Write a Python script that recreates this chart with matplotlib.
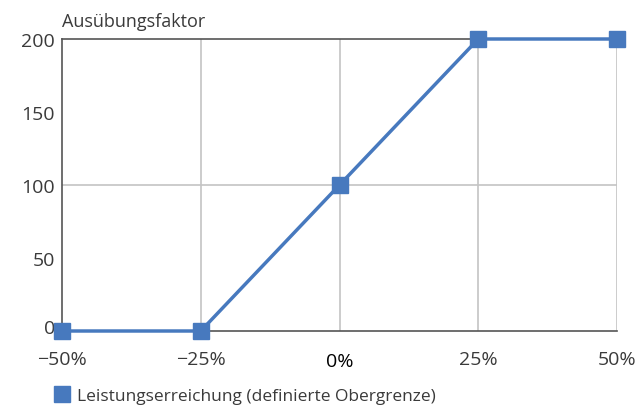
import matplotlib
matplotlib.use("Agg")
import matplotlib.pyplot as plt
from matplotlib.lines import Line2D
import matplotlib.transforms as mtransforms

x_vals = [-50, -25, 0, 25, 50]
y_vals = [0, 0, 100, 200, 200]
x_ticklabels = ["\u221250%", "\u221225%", "0%", "25%", "50%"]
y_ticks = [0, 50, 100, 150, 200]
series_name = "Leistungserreichung (definierte Obergrenze)"
y_title = "Ausübungsfaktor"

plt.rcParams['font.family'] = ['Open Sans', 'DejaVu Sans']
text_color = "#3a3a3a"
blue = "#4779BE"

fig = plt.figure(figsize=(6.39, 4.06), dpi=100)
ax = fig.add_axes([62/639, 1-332/406, (617-62)/639, (332-40)/406])

ax.plot(x_vals, y_vals, color=blue, lw=2.5, marker='s', ms=11.5,
        markerfacecolor=blue, markeredgecolor=blue, zorder=5, clip_on=False)

ax.set_xlim(-50, 50)
ax.set_ylim(0, 200)
ax.set_xticks(x_vals)
ax.set_xticklabels(x_ticklabels)
ax.set_yticks(y_ticks)

# gridlines
for xv in [-25, 0, 25, 50]:
    ax.axvline(xv, color="#c4c4c4", lw=1.2, zorder=1)
ax.axhline(100, color="#c4c4c4", lw=1.2, zorder=1)

for side in ['left', 'top', 'bottom']:
    ax.spines[side].set_color("#555555")
    ax.spines[side].set_linewidth(1.2)
ax.spines['right'].set_visible(False)

ax.tick_params(axis='both', length=0, labelsize=14, labelcolor=text_color)
ax.tick_params(axis='x', pad=14)
ax.tick_params(axis='y', pad=5)
for lbl in ax.get_xticklabels():
    if lbl.get_text() == "0%":
        lbl.set_color("black")
        lbl.set_transform(lbl.get_transform() + mtransforms.ScaledTranslation(0, -2/100, fig.dpi_scale_trans))
for lbl in ax.get_yticklabels():
    if lbl.get_text() == "0":
        lbl.set_transform(lbl.get_transform() + mtransforms.ScaledTranslation(0, 5/100, fig.dpi_scale_trans))

fig.text(62/639, 1-22/406, y_title, fontsize=13, color=text_color, va='center', ha='left')

handle = Line2D([], [], linestyle='none', marker='s', ms=11.5, color=blue)
fig.legend([handle], [series_name], loc='center left',
           bbox_to_anchor=(52/639, 1-397/406), frameon=False, fontsize=12.5,
           labelcolor=text_color, handletextpad=0.25, handlelength=1.2, borderaxespad=0,
           borderpad=0)

fig.savefig("out.png", dpi=100)
